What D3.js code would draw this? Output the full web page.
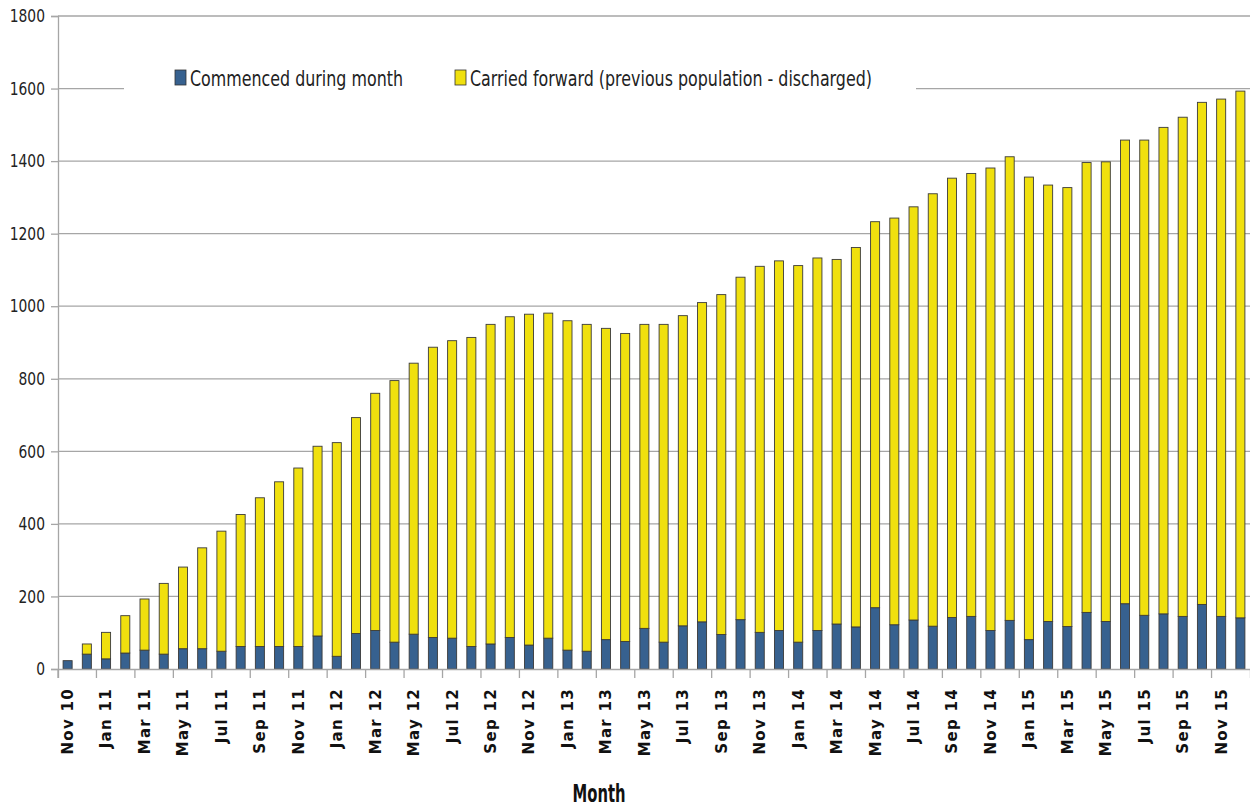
<!DOCTYPE html>
<html>
<head>
<meta charset="utf-8">
<script src="https://cdn.jsdelivr.net/npm/d3@7"></script>
<style>
  html, body { margin: 0; padding: 0; background: #fff; }
  svg { display: block; }
  text { font-family: "DejaVu Sans", sans-serif; }
</style>
</head>
<body>
<svg id="chart" width="1250" height="807"></svg>
<script>
// Monthly offender population: new commencements stacked under the carried-forward caseload
const months = [
  "Nov 10","Dec 10",
  "Jan 11","Feb 11","Mar 11","Apr 11","May 11","Jun 11","Jul 11","Aug 11","Sep 11","Oct 11","Nov 11","Dec 11",
  "Jan 12","Feb 12","Mar 12","Apr 12","May 12","Jun 12","Jul 12","Aug 12","Sep 12","Oct 12","Nov 12","Dec 12",
  "Jan 13","Feb 13","Mar 13","Apr 13","May 13","Jun 13","Jul 13","Aug 13","Sep 13","Oct 13","Nov 13","Dec 13",
  "Jan 14","Feb 14","Mar 14","Apr 14","May 14","Jun 14","Jul 14","Aug 14","Sep 14","Oct 14","Nov 14","Dec 14",
  "Jan 15","Feb 15","Mar 15","Apr 15","May 15","Jun 15","Jul 15","Aug 15","Sep 15","Oct 15","Nov 15","Dec 15"
];

const commenced = [
  23, 41,
  28, 44, 52, 41, 56, 56, 49, 62, 62, 62, 62, 91,
  35, 98, 106, 74, 96, 87, 85, 62, 69, 87, 66, 85,
  52, 49, 81, 76, 112, 74, 119, 130, 95, 136, 101, 106,
  74, 106, 124, 116, 169, 122, 135, 118, 142, 145, 106, 134,
  81, 131, 117, 156, 131, 180, 148, 152, 145, 178, 145, 141
];

const carriedForward = [
  0, 28,
  73, 103, 141, 195, 225, 278, 331, 364, 410, 454, 492, 523,
  589, 595, 654, 721, 747, 800, 820, 852, 881, 884, 912, 896,
  908, 901, 858, 849, 838, 876, 855, 880, 937, 944, 1009, 1019,
  1038, 1027, 1005, 1046, 1064, 1121, 1139, 1192, 1211, 1221, 1275, 1278,
  1275, 1203, 1210, 1240, 1267, 1278, 1310, 1341, 1376, 1384, 1426, 1452
];

const yTicks = [0, 200, 400, 600, 800, 1000, 1200, 1400, 1600, 1800];

const seriesNames = ["Commenced during month", "Carried forward (previous population - discharged)"];
const seriesColors = ["#37618f", "#f0e00e"];

const svg = d3.select("#chart");
const plotLeft = 58, plotRight = 1250, plotTop = 16, plotBottom = 669;

// squeeze a text node horizontally to a narrower set width
function condense(sel, factor) {
  sel.each(function () {
    const w = this.getComputedTextLength();
    d3.select(this)
      .attr("textLength", w * factor)
      .attr("lengthAdjust", "spacingAndGlyphs");
  });
}

const x = d3.scaleBand()
  .domain(months)
  .range([plotLeft, plotRight])
  .paddingInner(0.53)
  .paddingOuter(0.265);

const y = d3.scaleLinear()
  .domain([0, 1800])
  .range([plotBottom, plotTop]);

// horizontal gridlines
svg.append("g")
  .selectAll("line")
  .data(yTicks.filter(v => v > 0))
  .join("line")
  .attr("x1", plotLeft)
  .attr("x2", plotRight)
  .attr("y1", d => y(d))
  .attr("y2", d => y(d))
  .attr("stroke", "#a6a6a6")
  .attr("stroke-width", 1.3);

// y axis
const yAxis = svg.append("g")
  .attr("transform", `translate(${plotLeft},0)`)
  .call(d3.axisLeft(y).tickValues(yTicks).tickSize(7).tickPadding(6).tickFormat(d3.format("d")));
yAxis.select(".domain").attr("stroke", "#a6a6a6").attr("stroke-width", 1.3);
yAxis.selectAll(".tick line").attr("stroke", "#a6a6a6").attr("stroke-width", 1.3);
yAxis.selectAll(".tick text")
  .attr("font-family", "DejaVu Sans, sans-serif")
  .attr("font-size", 18)
  .attr("fill", "#222")
  .call(condense, 0.77);

// stacked bars
const rows = months.map((m, i) => ({ month: m, commenced: commenced[i], carried: carriedForward[i] }));
const stack = d3.stack().keys(["commenced", "carried"]);
const layers = stack(rows);

svg.append("g")
  .selectAll("g")
  .data(layers)
  .join("g")
  .attr("fill", (d, i) => seriesColors[i])
  .selectAll("rect")
  .data(d => d.filter(p => p[1] - p[0] > 0))
  .join("rect")
  .attr("x", d => x(d.data.month))
  .attr("width", x.bandwidth())
  .attr("y", d => y(d[1]))
  .attr("height", d => y(d[0]) - y(d[1]))
  .attr("stroke", "#3a3a3a")
  .attr("stroke-width", 0.9);

// x axis: labels on every other month, ticks on band boundaries
const labelled = months.filter((m, i) => i % 2 === 0);
const xAxis = svg.append("g")
  .attr("transform", `translate(0,${plotBottom})`)
  .call(d3.axisBottom(x).tickValues(labelled).tickSize(9).tickPadding(0));
xAxis.select(".domain").attr("stroke", "#a6a6a6").attr("stroke-width", 1.3);
xAxis.selectAll(".tick line")
  .attr("x1", -x.step() / 2)
  .attr("x2", -x.step() / 2)
  .attr("stroke", "#a6a6a6")
  .attr("stroke-width", 1.3);
xAxis.selectAll(".tick text")
  .attr("font-family", "DejaVu Sans, sans-serif")
  .attr("font-weight", "bold")
  .attr("font-size", 15)
  .attr("letter-spacing", 1.3)
  .attr("fill", "#111")
  .attr("text-anchor", "end")
  .attr("transform", "rotate(-90)")
  .attr("x", -19)
  .attr("y", 0)
  .attr("dy", "0.36em");

// axis title
svg.append("text")
  .attr("x", 599)
  .attr("y", 802)
  .attr("text-anchor", "middle")
  .attr("font-size", 24)
  .attr("font-weight", "bold")
  .attr("fill", "#111")
  .attr("textLength", 53)
  .attr("lengthAdjust", "spacingAndGlyphs")
  .text("Month");

// legend
const legend = svg.append("g");
legend.append("rect")
  .attr("x", 124).attr("y", 62).attr("width", 792).attr("height", 36)
  .attr("fill", "#fff");
const legendX = [175, 455];
const legendWidths = [213, 402];
seriesNames.forEach((name, i) => {
  legend.append("rect")
    .attr("x", legendX[i]).attr("y", 70)
    .attr("width", 11).attr("height", 15)
    .attr("fill", seriesColors[i])
    .attr("stroke", "#333").attr("stroke-width", 0.8);
  legend.append("text")
    .attr("x", legendX[i] + 15).attr("y", 86)
    .attr("font-size", 21)
    .attr("fill", "#222")
    .attr("textLength", legendWidths[i])
    .attr("lengthAdjust", "spacingAndGlyphs")
    .text(name);
});
</script>
</body>
</html>
